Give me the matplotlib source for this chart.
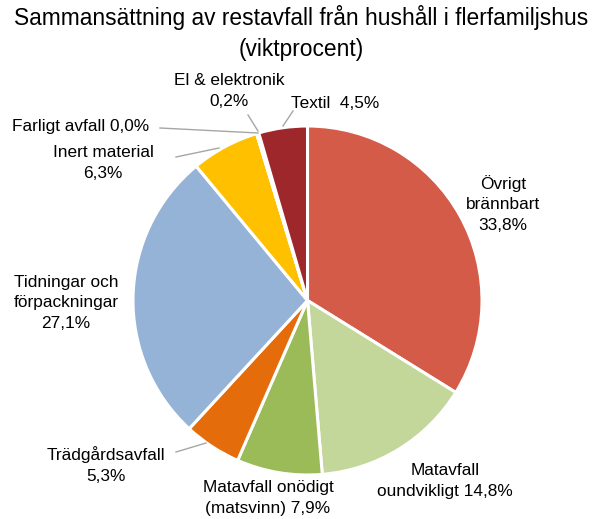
import matplotlib
matplotlib.use("Agg")
import matplotlib.pyplot as plt

plt.rcParams['font.family'] = ['Liberation Sans', 'DejaVu Sans']

# Composition of residual waste (weight percent)
categories = [
    "Övrigt brännbart",
    "Matavfall oundvikligt",
    "Matavfall onödigt (matsvinn)",
    "Trädgårdsavfall",
    "Tidningar och förpackningar",
    "Inert material",
    "Farligt avfall",
    "El & elektronik",
    "Textil",
]
values = [33.8, 14.8, 7.9, 5.3, 27.1, 6.3, 0.0, 0.2, 4.5]
label_texts = [
    "Övrigt\nbrännbart\n33,8%",
    "Matavfall\noundvikligt 14,8%",
    "Matavfall onödigt\n(matsvinn) 7,9%",
    "Trädgårdsavfall\n5,3%",
    "Tidningar och\nförpackningar\n27,1%",
    "Inert material\n6,3%",
    "Farligt avfall 0,0%",
    "El & elektronik\n0,2%",
    "Textil  4,5%",
]
colors = ["#D45B47", "#C4D79B", "#9BBB59", "#E46C0A", "#95B3D7",
          "#FFC000", "#7F7F7F", "#8064A2", "#9E272C"]

# Label layout (figure pixel coordinates, y measured from top)
label_pos = [(503, 204), (445, 481), (268, 498), (106, 465), (66, 303),
             (103, 163), (81, 126), (229, 91), (335, 103)]
leaders = {
    3: [(176, 452), (206, 443)],
    5: [(176, 157), (219, 148)],
    6: [(160, 128), (258, 133)],
    7: [(248, 115), (258, 131)],
    8: [(293, 111), (283, 126)],
}

W, H = 602, 519
fig = plt.figure(figsize=(W / 100, H / 100), dpi=100)
ax = fig.add_axes([0, 0, 1, 1])
ax.set_xlim(0, W)
ax.set_ylim(0, H)
ax.set_aspect("equal")
ax.axis("off")

ax.pie(values, colors=colors, startangle=90, counterclock=False,
       center=(307.5, H - 300.5), radius=174.5,
       wedgeprops=dict(edgecolor="white", linewidth=2.2))
ax.set_xlim(0, W)
ax.set_ylim(0, H)

for i, txt in enumerate(label_texts):
    x, y = label_pos[i]
    ax.text(x, H - y, txt, ha="center", va="center", fontsize=12.4,
            color="#000000", linespacing=1.45)

for i, pts in leaders.items():
    xs = [p[0] for p in pts]
    ys = [H - p[1] for p in pts]
    ax.plot(xs, ys, color="#A6A6A6", linewidth=1.0)

fig.text(0.5, 1 - 33 / H, "Sammansättning av restavfall från hushåll i flerfamiljshus\n(viktprocent)",
         ha="center", va="center", fontsize=16.4, linespacing=1.4)

fig.savefig("out.png", dpi=100)
